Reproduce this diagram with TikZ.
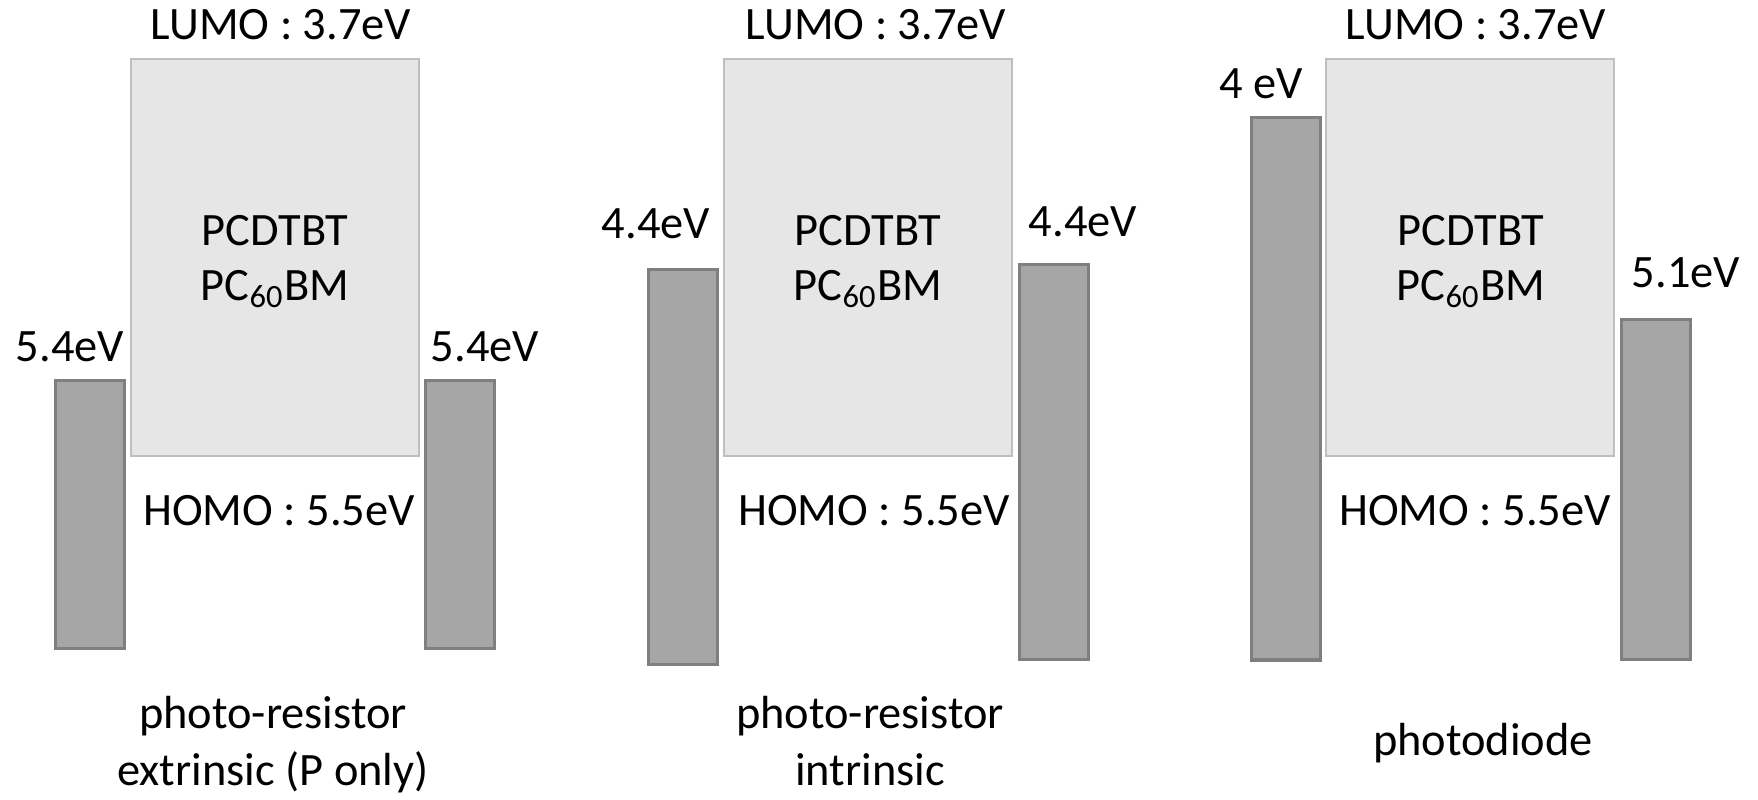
\documentclass[tikz,border=0pt]{standalone}
\usepackage{fontspec}
\setmainfont{Carlito}
\usepackage{tikz}
\usetikzlibrary{
	positioning                 % For relative placement
}
\definecolor{blendfill}{HTML}{E6E6E6}
\definecolor{blendline}{HTML}{BFBFBF}
\definecolor{barfill}{HTML}{A6A6A6}
\definecolor{barline}{HTML}{7F7F7F}
\newcommand{\lvlfont}{\fontsize{13.2}{15.6}\selectfont}
\tikzset{
	blend/.style={
		rectangle,
		draw=blendline,
		fill=blendfill,
		line width=0.5pt,
		minimum width=2.88cm,
		minimum height=3.97cm,
		inner sep=0pt,
		anchor=north west
	},
	electrode/.style={
		rectangle,
		draw=barline,
		fill=barfill,
		line width=0.9pt,
		minimum width=0.69cm,
		inner sep=0pt,
		anchor=north west
	},
	level/.style={
		anchor=base,
		inner sep=0pt,
		align=center,
		font=\lvlfont
	}
}

\begin{document}
\begin{tikzpicture}[x=0.01cm, y=-0.01cm]
		\useasboundingbox (0,0) rectangle (1758,799);
		
		% Panel 1: photo-resistor extrinsic
		\node [blend] (box1) at (130,58) {};
		\node [electrode, minimum height=2.68cm] (lb1) at (54,379) {};
		\node [electrode, minimum height=2.68cm] (rb1) at (424,379) {};
		\node [level] (lumo1) at (281,39) {LUMO : 3.7eV};
		\node [level] (homo1) at (279,525) {HOMO : 5.5eV};
		\node [level] (mat1) at (275,300) {PCDTBT\\PC\textsubscript{60}BM};
		\node [level] (wl1) at (70,361) {5.4eV};
		\node [level] (wr1) at (485,361) {5.4eV};
		\node [level] (cap1) at (273,785) {photo-resistor\\[0.6pt]extrinsic (P only)};
		
		% Panel 2: photo-resistor intrinsic
		\node [blend] (box2) at (723,58) {};
		\node [electrode, minimum height=3.95cm] (lb2) at (647,268) {};
		\node [electrode, minimum height=3.95cm] (rb2) at (1018,263) {};
		\node [level] (lumo2) at (876,39) {LUMO : 3.7eV};
		\node [level] (homo2) at (874,525) {HOMO : 5.5eV};
		\node [level] (mat2) at (868,300) {PCDTBT\\PC\textsubscript{60}BM};
		\node [level] (wl2) at (656,238) {4.4eV};
		\node [level] (wr2) at (1083,236) {4.4eV};
		\node [level] (cap2) at (870,785) {photo-resistor\\[0.6pt]intrinsic};
		
		% Panel 3: photodiode
		\node [blend] (box3) at (1325,58) {};
		\node [electrode, minimum height=5.42cm] (lb3) at (1250,116) {};
		\node [electrode, minimum height=3.40cm] (rb3) at (1620,318) {};
		\node [level] (lumo3) at (1476,39) {LUMO : 3.7eV};
		\node [level] (homo3) at (1475,525) {HOMO : 5.5eV};
		\node [level] (mat3) at (1471,300) {PCDTBT\\PC\textsubscript{60}BM};
		\node [level] (wl3) at (1261,98) {4 eV};
		\node [level] (wr3) at (1686,287) {5.1eV};
		\node [level] (cap3) at (1483,755) {photodiode};
	\end{tikzpicture}
\end{document}
